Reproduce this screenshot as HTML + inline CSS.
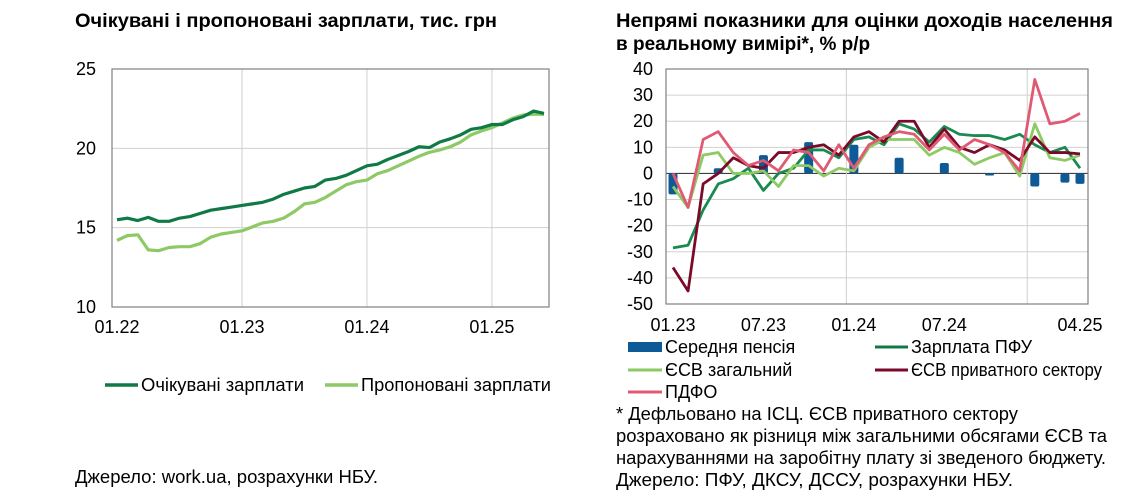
<!DOCTYPE html>
<html><head><meta charset="utf-8"><style>
html,body{margin:0;padding:0;background:#fff;}
svg{display:block;font-family:"Liberation Sans",Arial,sans-serif;}
</style></head><body>
<svg id="s" width="1148" height="496" viewBox="0 0 1148 496" xmlns="http://www.w3.org/2000/svg">
<text x="75" y="27" font-size="19" font-weight="bold" textLength="422" lengthAdjust="spacingAndGlyphs">Очікувані і пропоновані зарплати, тис. грн</text>
<text x="616" y="27" font-size="19" font-weight="bold" textLength="497" lengthAdjust="spacingAndGlyphs">Непрямі показники для оцінки доходів населення</text>
<text x="616" y="50" font-size="19" font-weight="bold">в реальному вимірі*, % р/р</text>
<g id="left"></g>
<g id="right"></g>
<g>
<line x1="105" y1="385" x2="138" y2="385" stroke="#0f7a45" stroke-width="3.5"/>
<text x="141" y="391" font-size="18" textLength="163" lengthAdjust="spacingAndGlyphs">Очікувані зарплати</text>
<line x1="325" y1="385" x2="358" y2="385" stroke="#8dc965" stroke-width="3.5"/>
<text x="361" y="391" font-size="18" textLength="190" lengthAdjust="spacingAndGlyphs">Пропоновані зарплати</text>
</g>
<text x="75" y="483" font-size="18" textLength="303" lengthAdjust="spacingAndGlyphs">Джерело: work.ua, розрахунки НБУ.</text>
<g font-size="18">
<rect x="628" y="342" width="34" height="10" fill="#0d5a96"/>
<text x="665" y="353">Середня пенсія</text>
<line x1="875" y1="347" x2="908" y2="347" stroke="#0f7a45" stroke-width="3"/>
<text x="911" y="353">Зарплата ПФУ</text>
<line x1="628" y1="370" x2="662" y2="370" stroke="#8dc965" stroke-width="3"/>
<text x="665" y="376">ЄСВ загальний</text>
<line x1="875" y1="370" x2="908" y2="370" stroke="#7a0a2a" stroke-width="3"/>
<text x="911" y="376" textLength="191" lengthAdjust="spacingAndGlyphs">ЄСВ приватного сектору</text>
<line x1="628" y1="392" x2="662" y2="392" stroke="#e05a73" stroke-width="3"/>
<text x="665" y="398">ПДФО</text>
</g>
<g font-size="18" lengthAdjust="spacingAndGlyphs">
<text x="616" y="420" textLength="402" lengthAdjust="spacingAndGlyphs">* Дефльовано на ІСЦ. ЄСВ приватного сектору</text>
<text x="616" y="442" textLength="491" lengthAdjust="spacingAndGlyphs">розраховано як різниця між загальними обсягами ЄСВ та</text>
<text x="616" y="464" textLength="490" lengthAdjust="spacingAndGlyphs">нарахуваннями на заробітну плату зі зведеного бюджету.</text>
<text x="616" y="486" textLength="397" lengthAdjust="spacingAndGlyphs">Джерело: ПФУ, ДКСУ, ДССУ, розрахунки НБУ.</text>
</g>
</svg>
<script>
// Left chart data
const leftXLabels = ["01.22","01.23","01.24","01.25"];
const leftYTicks = [10,15,20,25];
const expected = [15.5,15.6,15.45,15.65,15.4,15.4,15.6,15.7,15.9,16.1,16.2,16.3,
16.4,16.5,16.6,16.8,17.1,17.3,17.5,17.6,18.0,18.1,18.3,18.6,
18.9,19.0,19.3,19.55,19.8,20.1,20.05,20.4,20.6,20.85,21.2,21.3,
21.5,21.5,21.8,22.0,22.35,22.2];
const offered = [14.2,14.5,14.55,13.6,13.55,13.75,13.8,13.8,14.0,14.4,14.6,14.7,
14.8,15.05,15.3,15.4,15.6,16.0,16.5,16.6,16.9,17.3,17.7,17.9,
18.0,18.4,18.6,18.9,19.2,19.5,19.75,19.9,20.1,20.4,20.85,21.1,
21.3,21.6,21.9,22.1,22.15,22.15];
// Right chart data
const rightXLabels = ["01.23","07.23","01.24","07.24","04.25"];
const rightXLabelIdx = [0,6,12,18,27];
const rightYTicks = [40,30,20,10,0,-10,-20,-30,-40,-50];
const pension = [-8,null,null,2,null,null,7,null,null,12,null,null,11,null,null,6,null,null,4,null,null,-0.5,null,null,-5,null,-3.5,-4];
const wagePFU = [-28.5,-27.5,-14,-4,-2,2,-6.5,0,2,9,9,6,13,14,11,19,17,12,18,15,14.5,14.5,13,15,11,8,10,2];
const esvTotal = [-5,-13,7,8,0,0,1,-5,3,3,-1,2,1,10,13,13,13,7,10,8,3.5,6,8,-1,19,6,5,7];
const esvPrivate = [-36,-45,-4,0,6,3,2,8,8,10,11,7,14,16,12,20,20,10,17,10,8,11,9,5,14,8,8,7.5];
const pdfo = [0,-13,13,16,8,3,5,1,9,8,1,11,2,11,14,16,15,9,15,9,13,11,8,1,36,19,20,23];

const NS="http://www.w3.org/2000/svg";
function mk(p,t,a){const e=document.createElementNS(NS,t);for(const k in a)e.setAttribute(k,a[k]);p.appendChild(e);return e;}

// LEFT
(function(){
const g=document.getElementById('left');
const X0=112,X1=549,Y0=69,Y1=307;
const lx=i=>117+i*(544-117)/(expected.length-1);
const ly=v=>Y1-(v-10)/15*(Y1-Y0);
leftYTicks.forEach(v=>{
 if(v>10&&v<25){const l=mk(g,'line',{x1:X0,x2:X1,y1:ly(v),y2:ly(v),stroke:'#d0d0d0','stroke-width':1});
 
 }
 const t=mk(g,'text',{x:X0-16,y:ly(v)+6,'font-size':18,'text-anchor':'end'});t.textContent=v;
 
 
});
leftXLabels.forEach((s,k)=>{
 const x=lx(k*12);
 if(k>0){const l=mk(g,'line',{x1:x,x2:x,y1:Y0,y2:Y1,stroke:'#d0d0d0','stroke-width':1});
 
 }
 const t=mk(g,'text',{x:x,y:333,'font-size':18,'text-anchor':'middle'});t.textContent=s;
 
 
});
const fr=mk(g,'rect',{x:X0,y:Y0,width:X1-X0,height:Y1-Y0,fill:'none',stroke:'#808080','stroke-width':1.2});


[[offered,'#8dc965','offered-line'],[expected,'#0f7a45','expected-line']].forEach(([d,c,n])=>{
 const p=mk(g,'polyline',{points:d.map((v,i)=>lx(i)+','+ly(v)).join(' '),fill:'none',stroke:c,'stroke-width':3.2,'stroke-linejoin':'round'});
 
 
});
})();

// RIGHT
(function(){
const g=document.getElementById('right');
const X0=666,X1=1088,Y0=69,Y1=304;
const rx=i=>673+i*(1080-673)/(pdfo.length-1);
const ry=v=>Y0+(40-v)/90*(Y1-Y0);
rightYTicks.forEach(v=>{
 if(v<40&&v>-50){const l=mk(g,'line',{x1:X0,x2:X1,y1:ry(v),y2:ry(v),stroke:v===0?'#404040':'#d0d0d0','stroke-width':v===0?1.2:1});
 
 }
 const t=mk(g,'text',{x:X0-13,y:ry(v)+6,'font-size':18,'text-anchor':'end'});t.textContent=v;
 
 
});
[11.5,23.5].forEach(i=>{
 const l=mk(g,'line',{x1:rx(i),x2:rx(i),y1:Y0,y2:Y1,stroke:'#d0d0d0','stroke-width':1});
 
 
});
rightXLabels.forEach((s,k)=>{
 const t=mk(g,'text',{x:rx(rightXLabelIdx[k]),y:331,'font-size':18,'text-anchor':'middle'});t.textContent=s;
 
 
});
const fr=mk(g,'rect',{x:X0,y:Y0,width:X1-X0,height:Y1-Y0,fill:'none',stroke:'#808080','stroke-width':1.2});


pension.forEach((v,i)=>{
 if(v===null)return;
 const y=Math.min(ry(v),ry(0)),h=Math.max(Math.abs(ry(v)-ry(0)),2);
 const r=mk(g,'rect',{x:rx(i)-4.5,y:y,width:9,height:h,fill:'#0d5a96',rx:2});
 
 
});
[[wagePFU,'#1a8a50','wage-pfu-line'],[esvTotal,'#8dc965','esv-total-line'],[esvPrivate,'#7a0a2a','esv-private-line'],[pdfo,'#e05a73','pdfo-line']].forEach(([d,c,n])=>{
 const p=mk(g,'polyline',{points:d.map((v,i)=>rx(i)+','+ry(v)).join(' '),fill:'none',stroke:c,'stroke-width':2.8,'stroke-linejoin':'round'});
 
 
});
})();
</script>
</body></html>
